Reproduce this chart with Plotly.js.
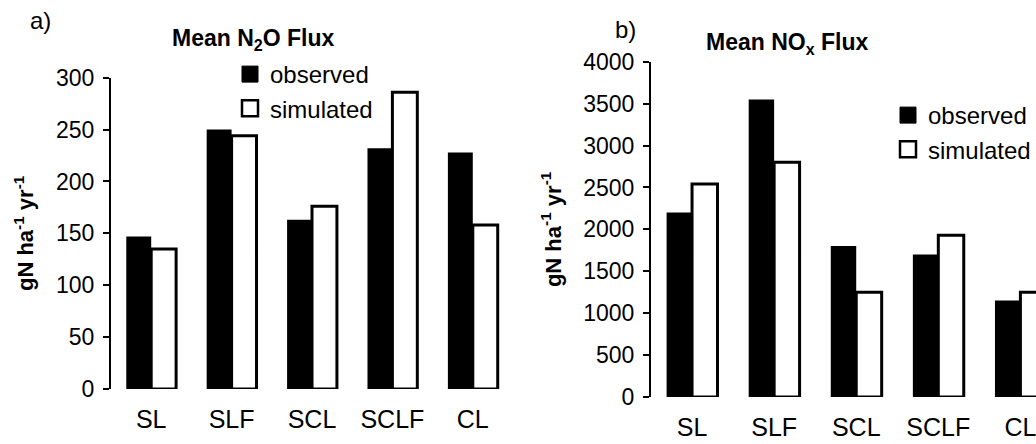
<!DOCTYPE html>
<html>
<head>
<meta charset="utf-8">
<script src="https://cdn.plot.ly/plotly-3.0.1.min.js"></script>
<style>html,body{margin:0;padding:0;background:#fff;}#chart{width:1036px;height:444px;}</style>
</head>
<body>
<div id="chart"></div>
<script>
// ---- data ----
const categories = ['SL', 'SLF', 'SCL', 'SCLF', 'CL'];
const n2oObserved  = [147, 250, 163, 232, 228];
const n2oSimulated = [135, 244, 176, 286, 158];
const noxObserved  = [2200, 3550, 1800, 1700, 1150];
const noxSimulated = [2540, 2800, 1250, 1930, 1250];
const n2oTicks = [0, 50, 100, 150, 200, 250, 300];
const noxTicks = [0, 500, 1000, 1500, 2000, 2500, 3000, 3500, 4000];
const seriesNames = ['observed', 'simulated'];
const panelLabels = ['a)', 'b)'];
const panelTitles = ['Mean N<sub>2</sub>O Flux', 'Mean NO<sub>x</sub> Flux'];
const yTitle = '<b>gN ha<sup>-1</sup> yr<sup>-1</sup></b>';

const FONT = 'Liberation Sans, Arial, Helvetica, sans-serif';
const W = 1036, H = 444;
const px = v => v / W;          // horizontal pixel -> paper
const py = v => 1 - v / H;      // vertical pixel (from top) -> paper

const obsStyle = {color: '#000', line: {color: '#000', width: 0}};
const simStyle = {color: '#fff', line: {color: '#000', width: 3}};
const obsKey = {symbol: 'square', size: 16, color: '#000', line: {color: '#000', width: 1}};
const simKey = {symbol: 'square', size: 16, color: '#fff', line: {color: '#000', width: 2.5}};

const traces = [
  {type: 'bar', x: categories, y: n2oObserved, name: seriesNames[0], marker: obsStyle, xaxis: 'x', yaxis: 'y', showlegend: false},
  {type: 'bar', x: categories, y: n2oSimulated, name: seriesNames[1], marker: simStyle, xaxis: 'x', yaxis: 'y', showlegend: false},
  {type: 'bar', x: categories, y: noxObserved, name: seriesNames[0], marker: obsStyle, xaxis: 'x2', yaxis: 'y2', showlegend: false},
  {type: 'bar', x: categories, y: noxSimulated, name: seriesNames[1], marker: simStyle, xaxis: 'x2', yaxis: 'y2', showlegend: false},
  // legend keys (no data drawn)
  {type: 'scatter', mode: 'markers', x: [null], y: [null], name: seriesNames[0], marker: obsKey, xaxis: 'x', yaxis: 'y', legend: 'legend'},
  {type: 'scatter', mode: 'markers', x: [null], y: [null], name: seriesNames[1], marker: simKey, xaxis: 'x', yaxis: 'y', legend: 'legend'},
  {type: 'scatter', mode: 'markers', x: [null], y: [null], name: seriesNames[0], marker: obsKey, xaxis: 'x2', yaxis: 'y2', legend: 'legend2'},
  {type: 'scatter', mode: 'markers', x: [null], y: [null], name: seriesNames[1], marker: simKey, xaxis: 'x2', yaxis: 'y2', legend: 'legend2'}
];

const yBase = {
  showline: true, linecolor: '#000', linewidth: 2,
  ticks: 'outside', ticklen: 6, tickwidth: 2, tickcolor: '#000',
  showgrid: false, zeroline: false, fixedrange: true,
  tickfont: {family: FONT, size: 23, color: '#000'},
  ticklabelstandoff: 4
};
const xBase = {
  type: 'category', showline: false, ticks: '', showgrid: false, zeroline: false,
  tickfont: {family: FONT, size: 25, color: '#000'},
  ticklabelstandoff: 13
};

const legendBase = {
  font: {family: FONT, size: 24, color: '#000'},
  bgcolor: 'rgba(0,0,0,0)', borderwidth: 0, itemwidth: 30,
  xanchor: 'left', yanchor: 'top', traceorder: 'normal', itemclick: false, itemdoubleclick: false
};

const layout = {
  width: W, height: H,
  margin: {l: 0, r: 0, t: 0, b: 0},
  paper_bgcolor: '#fff', plot_bgcolor: '#fff',
  barmode: 'group', bargap: 0.38, bargroupgap: 0,
  font: {family: FONT, color: '#000'},
  xaxis: Object.assign({}, xBase, {domain: [px(111), px(513)], anchor: 'y', range: [-0.5, 4.5]}),
  yaxis: Object.assign({}, yBase, {domain: [py(389), py(77.7)], anchor: 'x', range: [0, 300], tickvals: n2oTicks,
    title: {text: yTitle, font: {family: FONT, size: 22, color: '#000'}, standoff: 16}}),
  xaxis2: Object.assign({}, xBase, {domain: [px(651), 1], anchor: 'y2', range: [-0.5, 4.19]}),
  yaxis2: Object.assign({}, yBase, {domain: [py(397), py(61.7)], anchor: 'x2', range: [0, 4000], tickvals: noxTicks,
    title: {text: yTitle, font: {family: FONT, size: 22, color: '#000'}, standoff: 16}}),
  showlegend: true,
  legend: Object.assign({}, legendBase, {x: px(230), y: py(52)}),
  legend2: Object.assign({}, legendBase, {x: px(888), y: py(93)}),
  annotations: [
    {text: panelLabels[0], xref: 'paper', yref: 'paper', x: px(40), y: py(21), xanchor: 'center', yanchor: 'middle', showarrow: false,
     font: {family: FONT, size: 24, color: '#000'}},
    {text: panelLabels[1], xref: 'paper', yref: 'paper', x: px(625), y: py(29), xanchor: 'center', yanchor: 'middle', showarrow: false,
     font: {family: FONT, size: 24, color: '#000'}},
    {text: '<b>' + panelTitles[0] + '</b>', xref: 'paper', yref: 'paper', x: px(253), y: py(40), xanchor: 'center', yanchor: 'middle', showarrow: false,
     font: {family: FONT, size: 23, color: '#000'}},
    {text: '<b>' + panelTitles[1] + '</b>', xref: 'paper', yref: 'paper', x: px(787), y: py(44), xanchor: 'center', yanchor: 'middle', showarrow: false,
     font: {family: FONT, size: 23, color: '#000'}}
  ]
};

Plotly.newPlot('chart', traces, layout, {displayModeBar: false, staticPlot: true});
</script>
</body>
</html>
